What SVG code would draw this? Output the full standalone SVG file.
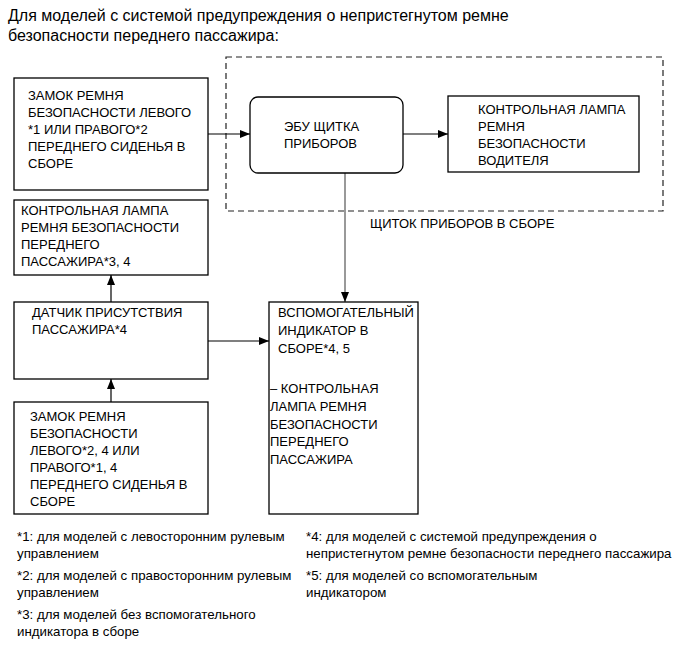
<svg xmlns="http://www.w3.org/2000/svg" width="691" height="659" viewBox="0 0 691 659">
<defs>
<marker id="ah" viewBox="0 0 10 10" refX="10" refY="5" markerWidth="10" markerHeight="10" markerUnits="userSpaceOnUse" orient="auto">
<path d="M0,1 L10,5 L0,9 Z" fill="#000"/>
</marker>
</defs>
<style>
text{font-family:"Liberation Sans",Arial,sans-serif;fill:#000}
.t{font-size:16px}
.b{font-size:13px}
.f{font-size:13.3px}
.box{fill:#fff;stroke:#000;stroke-width:1.3}
.ln{fill:none;stroke:#000;stroke-width:1.2}
.gr{fill:none;stroke:#555;stroke-width:1.2}
.dash{fill:none;stroke:#222;stroke-width:1.2;stroke-dasharray:6,4}
</style>
<rect width="691" height="659" fill="#fff"/>
<text class="t" x="8" y="21">Для моделей с системой предупреждения о непристегнутом ремне</text>
<text class="t" x="8" y="41">безопасности переднего пассажира:</text>

<g id="cluster">
<rect class="dash" x="226" y="57" width="437" height="154"/>
<text class="b" x="370" y="228">ЩИТОК ПРИБОРОВ В СБОРЕ</text>
</g>

<g id="connectors">
<line class="ln" x1="208" y1="134" x2="250" y2="134" marker-end="url(#ah)"/>
<line class="ln" x1="403" y1="134" x2="448" y2="134" marker-end="url(#ah)"/>
<line class="gr" x1="345" y1="173" x2="345" y2="302" marker-end="url(#ah)"/>
<line class="ln" x1="111" y1="302" x2="111" y2="275" marker-end="url(#ah)"/>
<line class="ln" x1="208" y1="341" x2="269" y2="341" marker-end="url(#ah)"/>
<line class="ln" x1="111" y1="402" x2="111" y2="379" marker-end="url(#ah)"/>
</g>

<g id="seat1">
<rect class="box" x="14" y="78" width="194" height="112"/>
<text class="b"><tspan x="28" y="100">ЗАМОК РЕМНЯ</tspan><tspan x="28" y="117">БЕЗОПАСНОСТИ ЛЕВОГО</tspan><tspan x="28" y="134">*1 ИЛИ ПРАВОГО*2</tspan><tspan x="28" y="151">ПЕРЕДНЕГО СИДЕНЬЯ В</tspan><tspan x="28" y="168">СБОРЕ</tspan></text>
</g>

<g id="ecu">
<rect class="box" x="250" y="97" width="153" height="76" rx="8"/>
<text class="b"><tspan x="284" y="131">ЭБУ ЩИТКА</tspan><tspan x="284" y="148">ПРИБОРОВ</tspan></text>
</g>

<g id="driverlamp">
<rect class="box" x="448" y="96" width="191" height="76"/>
<text class="b"><tspan x="478" y="114">КОНТРОЛЬНАЯ ЛАМПА</tspan><tspan x="478" y="131">РЕМНЯ</tspan><tspan x="478" y="148">БЕЗОПАСНОСТИ</tspan><tspan x="478" y="165">ВОДИТЕЛЯ</tspan></text>
</g>

<g id="passlamp">
<rect class="box" x="14" y="200" width="194" height="75"/>
<text class="b"><tspan x="21" y="215">КОНТРОЛЬНАЯ ЛАМПА</tspan><tspan x="21" y="232">РЕМНЯ БЕЗОПАСНОСТИ</tspan><tspan x="21" y="249">ПЕРЕДНЕГО</tspan><tspan x="21" y="266">ПАССАЖИРА*3, 4</tspan></text>
</g>

<g id="sensor">
<rect class="box" x="14" y="302" width="194" height="77"/>
<text class="b"><tspan x="32" y="317">ДАТЧИК ПРИСУТСТВИЯ</tspan><tspan x="32" y="334">ПАССАЖИРА*4</tspan></text>
</g>

<g id="aux">
<rect class="box" x="269" y="302" width="149" height="212"/>
<text class="b"><tspan x="278" y="317">ВСПОМОГАТЕЛЬНЫЙ</tspan><tspan x="278" y="335">ИНДИКАТОР В</tspan><tspan x="278" y="353">СБОРЕ*4, 5</tspan><tspan x="270" y="393">– КОНТРОЛЬНАЯ</tspan><tspan x="270" y="411">ЛАМПА РЕМНЯ</tspan><tspan x="270" y="429">БЕЗОПАСНОСТИ</tspan><tspan x="270" y="446">ПЕРЕДНЕГО</tspan><tspan x="270" y="464">ПАССАЖИРА</tspan></text>
</g>

<g id="seat2">
<rect class="box" x="14" y="402" width="194" height="112"/>
<text class="b"><tspan x="30" y="421">ЗАМОК РЕМНЯ</tspan><tspan x="30" y="438">БЕЗОПАСНОСТИ</tspan><tspan x="30" y="455">ЛЕВОГО*2, 4 ИЛИ</tspan><tspan x="30" y="472">ПРАВОГО*1, 4</tspan><tspan x="30" y="489">ПЕРЕДНЕГО СИДЕНЬЯ В</tspan><tspan x="30" y="506">СБОРЕ</tspan></text>
</g>

<g id="notes">
<text class="f"><tspan x="17" y="541">*1: для моделей с левосторонним рулевым</tspan><tspan x="17" y="558">управлением</tspan><tspan x="17" y="580">*2: для моделей с правосторонним рулевым</tspan><tspan x="17" y="597">управлением</tspan><tspan x="17" y="619">*3: для моделей без вспомогательного</tspan><tspan x="17" y="636">индикатора в сборе</tspan></text>
<text class="f"><tspan x="306" y="541">*4: для моделей с системой предупреждения о</tspan><tspan x="306" y="558">непристегнутом ремне безопасности переднего пассажира</tspan><tspan x="306" y="580">*5: для моделей со вспомогательным</tspan><tspan x="306" y="597">индикатором</tspan></text>
</g>
</svg>
